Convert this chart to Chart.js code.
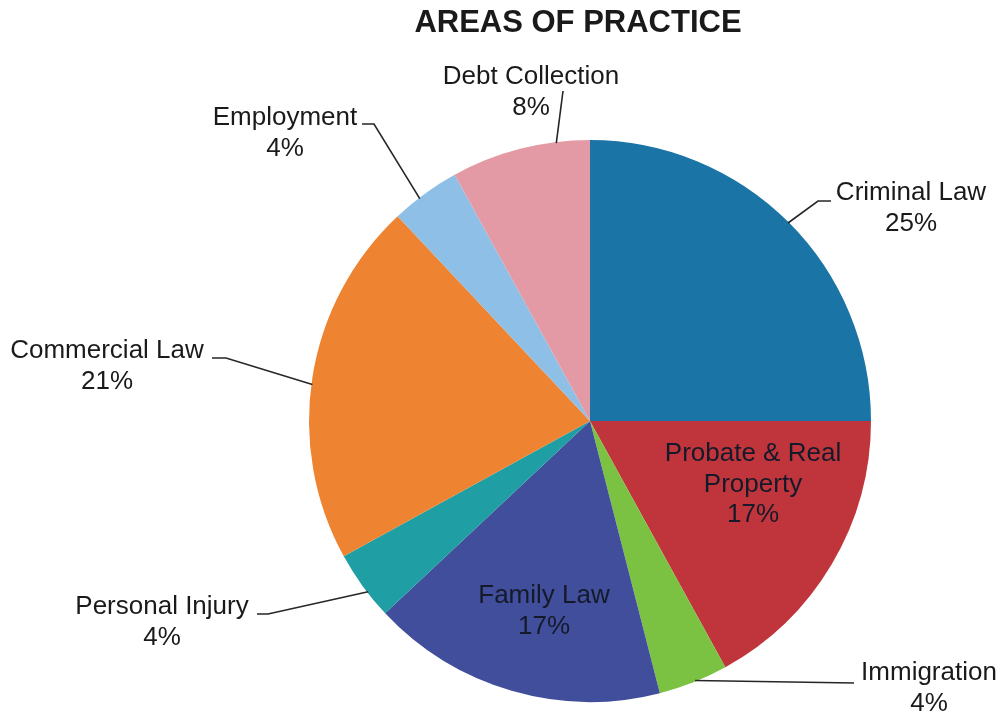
<!DOCTYPE html>
<html>
<head>
<meta charset="utf-8">
<script src="https://cdn.jsdelivr.net/npm/chart.js@4"></script>
<style>
  html, body { margin: 0; padding: 0; background: #ffffff; }
  #wrap { width: 1003px; height: 716px; position: relative; }
</style>
</head>
<body>
<div id="wrap"><canvas id="c"></canvas></div>
<script>
const chartTitle = "AREAS OF PRACTICE";
const categories = ["Criminal Law", "Probate & Real Property", "Immigration", "Family Law",
                    "Personal Injury", "Commercial Law", "Employment", "Debt Collection"];
const shares = [25, 17, 4, 17, 4, 21, 4, 8];
const sliceColors = ["#1b74a6", "#c0353b", "#7cc242", "#414e9b",
                     "#1f9ea4", "#ee8431", "#8ebfe6", "#e49aa4"];

// label text layout (line breaks, centre of text block, leader elbow) per slice index
const labelLayout = [
  { lines: ["Criminal Law"], cx: 911, cy: 193, attach: 0.5, path: [[818, 201], [831, 201]] },
  { lines: ["Probate & Real", "Property"], cx: 753, cy: 454, inside: true },
  { lines: ["Immigration"], cx: 929, cy: 673, attach: 0.47, path: [[854, 683]] },
  { lines: ["Family Law"], cx: 544, cy: 596, inside: true },
  { lines: ["Personal Injury"], cx: 162, cy: 607, attach: 0.39, path: [[268, 614], [257, 614]] },
  { lines: ["Commercial Law"], cx: 107, cy: 351, attach: 0.48, path: [[226, 358], [212, 358]] },
  { lines: ["Employment"], cx: 285, cy: 118, attach: 0.40, path: [[374, 124], [362, 124]] },
  { lines: ["Debt Collection"], cx: 531, cy: 77, attach: 0.76, path: [[563, 91]] }
];

const FONT = '"Liberation Sans", Arial, sans-serif';

const labelPlugin = {
  id: 'pieLabels',
  afterDatasetsDraw(chart) {
    const ctx = chart.ctx;
    const meta = chart.getDatasetMeta(0);
    ctx.save();
    // title
    ctx.fillStyle = '#1a1a1a';
    ctx.font = 'bold 31px ' + FONT;
    ctx.textAlign = 'center';
    ctx.textBaseline = 'middle';
    ctx.fillText(chartTitle, 578, 23);

    const lh = 30.5;
    meta.data.forEach((arc, i) => {
      const L = labelLayout[i];
      const p = arc.getProps(['x', 'y', 'startAngle', 'endAngle', 'outerRadius'], true);
      if (!L.inside) {
        const a = p.startAngle + L.attach * (p.endAngle - p.startAngle);
        const sx = p.x + Math.cos(a) * (p.outerRadius - 1);
        const sy = p.y + Math.sin(a) * (p.outerRadius - 1);
        ctx.strokeStyle = '#262626';
        ctx.lineWidth = 1.6;
        ctx.beginPath();
        ctx.moveTo(sx, sy);
        L.path.forEach(pt => ctx.lineTo(pt[0], pt[1]));
        ctx.stroke();
      }
      const lines = L.lines.concat([shares[i] + '%']);
      ctx.font = '26px ' + FONT;
      ctx.fillStyle = L.inside ? '#151a2a' : '#1a1a1a';
      lines.forEach((t, k) => ctx.fillText(t, L.cx, L.cy + k * lh));
    });
    ctx.restore();
  }
};

new Chart(document.getElementById('c'), {
  type: 'pie',
  data: {
    labels: categories,
    datasets: [{
      data: shares,
      backgroundColor: sliceColors,
      borderWidth: 0,
      hoverBorderWidth: 0,
      hoverOffset: 0,
      offset: 0,
      radius: 281
    }]
  },
  options: {
    responsive: true,
    maintainAspectRatio: false,
    animation: false,
    events: [],
    layout: { padding: { top: 140, bottom: 14, left: 199, right: 22 } },
    plugins: {
      legend: { display: false },
      title: { display: false },
      tooltip: { enabled: false }
    }
  },
  plugins: [labelPlugin]
});
</script>
</body>
</html>
